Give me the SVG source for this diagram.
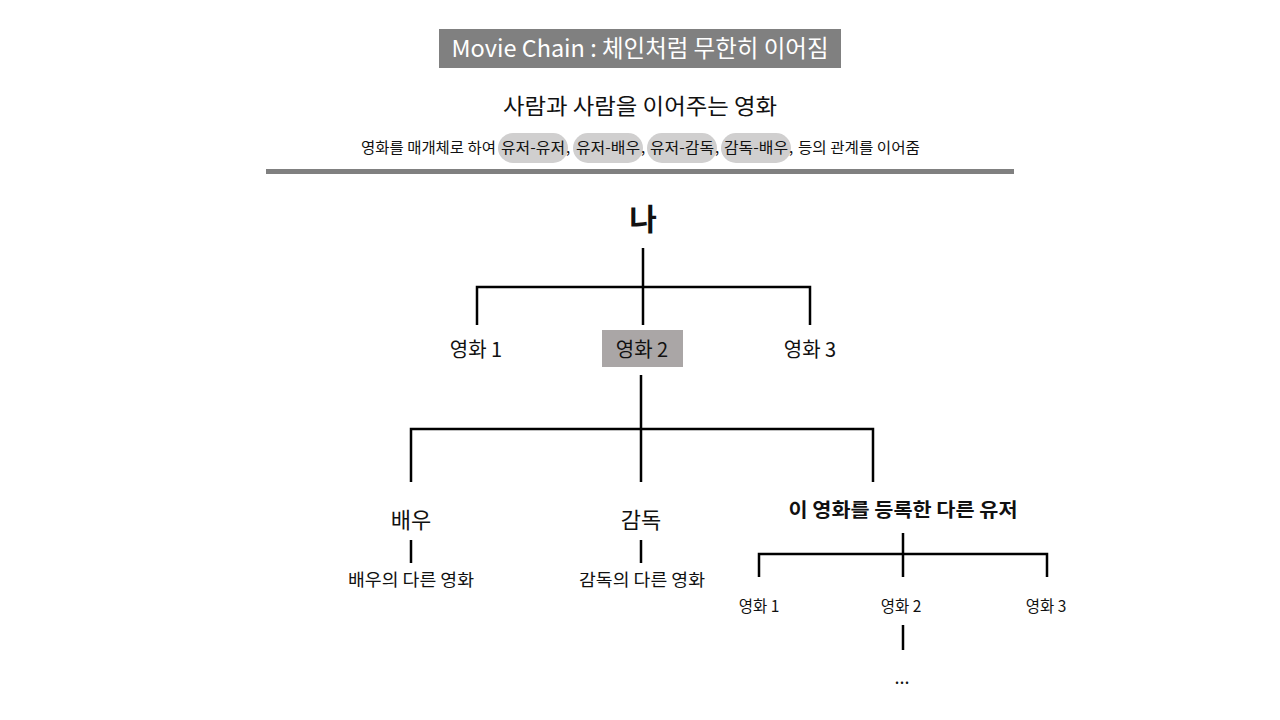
<svg xmlns="http://www.w3.org/2000/svg" width="1280" height="720" viewBox="0 0 1280 720">
<style>
text{font-family:"Noto Sans CJK KR","Noto Sans",sans-serif;fill:#111;text-anchor:middle}
.d{font-size:15px;text-anchor:start}
.ln{stroke:#000;stroke-width:2.5;fill:none}
.pill{fill:#d0cfcf}
</style>
<rect width="1280" height="720" fill="#fff"/>
<g id="title">
<rect x="439" y="29" width="402" height="39" fill="#808080"/>
<text x="640" y="57" font-size="23.5" textLength="377" lengthAdjust="spacingAndGlyphs" style="fill:#fff">Movie Chain : 체인처럼 무한히 이어짐</text>
</g>
<g id="subtitle">
<text x="640" y="114" font-size="22" textLength="274" lengthAdjust="spacingAndGlyphs">사람과 사람을 이어주는 영화</text>
</g>
<g id="desc">
<rect class="pill" x="498" y="133" width="70" height="30" rx="15"/>
<rect class="pill" x="573" y="133" width="70" height="30" rx="15"/>
<rect class="pill" x="647" y="133" width="70" height="30" rx="15"/>
<rect class="pill" x="721" y="133" width="70" height="30" rx="15"/>
<text class="d" x="361" y="153" textLength="135" lengthAdjust="spacingAndGlyphs">영화를 매개체로 하여</text>
<text class="d" x="501" y="153" textLength="64" lengthAdjust="spacingAndGlyphs">유저-유저</text>
<text class="d" x="566" y="153">,</text>
<text class="d" x="576" y="153" textLength="64" lengthAdjust="spacingAndGlyphs">유저-배우</text>
<text class="d" x="641" y="153">,</text>
<text class="d" x="650" y="153" textLength="64" lengthAdjust="spacingAndGlyphs">유저-감독</text>
<text class="d" x="715" y="153">,</text>
<text class="d" x="724" y="153" textLength="64" lengthAdjust="spacingAndGlyphs">감독-배우</text>
<text class="d" x="789" y="153">,</text>
<text class="d" x="798" y="153" textLength="122" lengthAdjust="spacingAndGlyphs">등의 관계를 이어줌</text>
</g>
<rect id="divider" x="266" y="169" width="748" height="5" fill="#808080"/>
<g id="connectors">
<path class="ln" d="M643 248V287M477 325V287H810V325M643 287V325"/>
<path class="ln" d="M641 375V429M411 482V429H873V482M641 429V482"/>
<path class="ln" d="M411 540V563M641 540V563"/>
<path class="ln" d="M903 533V577M759 577V554H1047V577"/>
<path class="ln" d="M903 625V650"/>
</g>
<g id="me"><text x="643" y="230" font-size="30" font-weight="bold">나</text></g>
<g id="movie1"><text x="476" y="357" font-size="20">영화 1</text></g>
<g id="movie2"><rect x="602" y="330" width="81" height="37" fill="#aaa6a6"/><text x="642" y="357" font-size="20">영화 2</text></g>
<g id="movie3"><text x="810" y="357" font-size="20">영화 3</text></g>
<g id="actor"><text x="411" y="528" font-size="22">배우</text></g>
<g id="actor-movies"><text x="411" y="586" font-size="17" textLength="126" lengthAdjust="spacingAndGlyphs">배우의 다른 영화</text></g>
<g id="director"><text x="641" y="528" font-size="22">감독</text></g>
<g id="director-movies"><text x="642" y="586" font-size="17" textLength="126" lengthAdjust="spacingAndGlyphs">감독의 다른 영화</text></g>
<g id="other-users"><text x="903" y="517" font-size="19" font-weight="bold" textLength="229" lengthAdjust="spacingAndGlyphs">이 영화를 등록한 다른 유저</text></g>
<g id="u-movie1"><text x="759" y="612" font-size="15.5">영화 1</text></g>
<g id="u-movie2"><text x="901" y="612" font-size="15.5">영화 2</text></g>
<g id="u-movie3"><text x="1046" y="612" font-size="15.5">영화 3</text></g>
<g id="more"><text x="902" y="684" font-size="18">...</text></g>
</svg>
